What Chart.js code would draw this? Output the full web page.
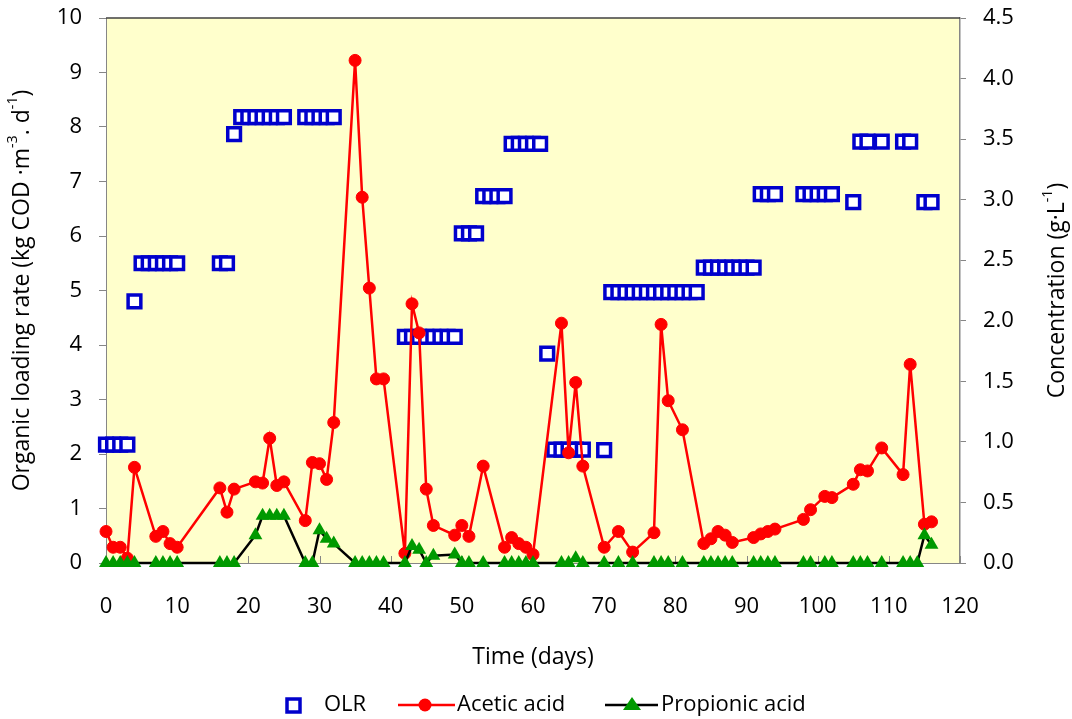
<!DOCTYPE html>
<html>
<head>
<meta charset="utf-8">
<script src="https://cdn.jsdelivr.net/npm/chart.js@4.4.1/dist/chart.umd.min.js"></script>
<style>
html, body { margin: 0; padding: 0; background: #ffffff; }
</style>
</head>
<body>
<canvas id="olrChart" width="1072" height="719"></canvas>
<script>

/* Data */

const olrDays   = [0, 1, 2, 3, 4, 5, 6, 7, 8, 9, 10, 16, 17, 18, 19, 20, 21, 22, 23, 24, 25, 28, 29, 30, 31, 32,
                   42, 43, 44, 45, 46, 47, 48, 49, 50, 51, 52, 53, 54, 55, 56, 57, 58, 59, 60, 61, 62,
                   63, 64, 65, 66, 67, 70, 71, 72, 73, 74, 75, 76, 77, 78, 79, 80, 81, 82, 83,
                   84, 85, 86, 87, 88, 89, 90, 91, 92, 93, 94, 98, 99, 100, 101, 102, 105, 106, 107, 109,
                   112, 113, 115, 116];
const olrValues = [2.17, 2.17, 2.17, 2.17, 4.8, 5.5, 5.5, 5.5, 5.5, 5.5, 5.5, 5.5, 5.5, 7.87, 8.18, 8.18, 8.18, 8.18, 8.18, 8.18, 8.18, 8.18, 8.18, 8.18, 8.18, 8.18,
                   4.15, 4.15, 4.15, 4.15, 4.15, 4.15, 4.15, 4.15, 6.05, 6.05, 6.05, 6.73, 6.73, 6.73, 6.73, 7.69, 7.69, 7.69, 7.69, 7.69, 3.84,
                   2.08, 2.08, 2.08, 2.08, 2.08, 2.07, 4.97, 4.97, 4.97, 4.97, 4.97, 4.97, 4.97, 4.97, 4.97, 4.97, 4.97, 4.97, 4.97,
                   5.42, 5.42, 5.42, 5.42, 5.42, 5.42, 5.42, 5.42, 6.77, 6.77, 6.77, 6.77, 6.77, 6.77, 6.77, 6.77, 6.62, 7.73, 7.73, 7.73,
                   7.73, 7.73, 6.62, 6.62];

const aceticDays   = [0, 1, 2, 3, 4, 7, 8, 9, 10, 16, 17, 18, 21, 22, 23, 24, 25, 28, 29, 30, 31, 32,
                      35, 36, 37, 38, 39, 42, 43, 44, 45, 46, 49, 50, 51, 53, 56, 57, 58, 59, 60,
                      64, 65, 66, 67, 70, 72, 74, 77, 78, 79, 81, 84, 85, 86, 87, 88, 91, 92, 93, 94,
                      98, 99, 101, 102, 105, 106, 107, 109, 112, 113, 115, 116];
const aceticValues = [0.26, 0.13, 0.13, 0.04, 0.79, 0.22, 0.26, 0.16, 0.13, 0.62, 0.42, 0.61, 0.67, 0.66, 1.03, 0.64, 0.67, 0.35, 0.83, 0.82, 0.69, 1.16,
                      4.15, 3.02, 2.27, 1.52, 1.52, 0.08, 2.14, 1.90, 0.61, 0.31, 0.23, 0.31, 0.22, 0.80, 0.13, 0.21, 0.16, 0.13, 0.07,
                      1.98, 0.91, 1.49, 0.80, 0.13, 0.26, 0.09, 0.25, 1.97, 1.34, 1.10, 0.16, 0.20, 0.26, 0.23, 0.17, 0.21, 0.24, 0.26, 0.28,
                      0.36, 0.44, 0.55, 0.54, 0.65, 0.77, 0.76, 0.95, 0.73, 1.64, 0.32, 0.34];

const propionicDays   = [0, 1, 2, 3, 4, 7, 8, 9, 10, 16, 17, 18, 21, 22, 23, 24, 25, 28, 29, 30, 31, 32,
                         35, 36, 37, 38, 39, 42, 43, 44, 45, 46, 49, 50, 51, 53, 56, 57, 58, 59, 60,
                         64, 65, 66, 67, 70, 72, 74, 77, 78, 79, 81, 84, 85, 86, 87, 88, 91, 92, 93, 94,
                         98, 99, 101, 102, 105, 106, 107, 109, 112, 113, 114, 115, 116];
const propionicValues = [0, 0, 0, 0, 0, 0, 0, 0, 0, 0, 0, 0, 0.23, 0.39, 0.39, 0.39, 0.39, 0, 0, 0.27, 0.20, 0.16,
                         0, 0, 0, 0, 0, 0, 0.14, 0.11, 0, 0.06, 0.07, 0, 0, 0, 0, 0, 0, 0, 0,
                         0, 0, 0.04, 0, 0, 0, 0, 0, 0, 0, 0, 0, 0, 0, 0, 0, 0, 0, 0, 0,
                         0, 0, 0, 0, 0, 0, 0, 0, 0, 0, 0, 0.23, 0.15];

const xMin = 0, xMax = 120, xStep = 10;
const leftMin = 0, leftMax = 10, leftStep = 1;
const rightMin = 0, rightMax = 4.5, rightStep = 0.5;

const leftTitle  = [["Organic loading rate (kg COD \u00b7m", false], ["-3", true], [". d", false], ["-1", true], [")", false]];
const rightTitle = [["Concentration (g\u00b7L", false], ["-1", true], [")", false]];

const legendNames = ["OLR", "Acetic acid", "Propionic acid"];

const FONT = "'Open Sans', 'Noto Sans', sans-serif";
const FS = 22;
const TITLE_FS = 23;

function pts(xs, ys){
  return xs.map((x, i) => ({x: x, y: ys[i]}));
}


/* Helpers */

function richWidth(ctx, parts, size){
  let w = 0;
  parts.forEach(p => {
    ctx.font = (p[1] ? size * 0.62 : size) + "px " + FONT;
    w += ctx.measureText(p[0]).width;
  });
  return w;
}

function drawRich(ctx, parts, cx, cy, size){
  ctx.save();
  ctx.translate(cx, cy);
  ctx.rotate(-Math.PI / 2);
  ctx.fillStyle = "#000";
  ctx.textBaseline = "middle";
  ctx.textAlign = "left";
  let x = -richWidth(ctx, parts, size) / 2;
  parts.forEach(p => {
    ctx.font = (p[1] ? size * 0.62 : size) + "px " + FONT;
    ctx.fillText(p[0], x, p[1] ? -size * 0.38 : 0);
    x += ctx.measureText(p[0]).width;
  });
  ctx.restore();
}

// fixed box sizes so the plot area lands where the figure has it
function fixWidth(w){
  return s => { s.width = w; s.paddingTop = 0; s.paddingBottom = 0; };
}


/* Plot area background, frame, inner x ticks */

const plotFrame = {
  id: "plotFrame",
  beforeDraw(chart){
    const {ctx, chartArea: a} = chart;
    ctx.save();
    ctx.fillStyle = "#FFFFCC";
    ctx.fillRect(a.left, a.top, a.right - a.left, a.bottom - a.top);
    ctx.restore();
  },
  beforeDatasetsDraw(chart){
    const {ctx, chartArea: a} = chart;
    const xs = chart.scales.x;
    ctx.save();
    ctx.strokeStyle = "#404040";
    ctx.lineWidth = 1.5;
    ctx.beginPath();
    ctx.moveTo(a.left, a.top);
    ctx.lineTo(a.right, a.top);
    ctx.stroke();
    ctx.strokeStyle = "#868686";
    ctx.lineWidth = 1;
    xs.ticks.forEach(t => {
      const px = Math.round(xs.getPixelForValue(t.value)) + 0.5;
      ctx.beginPath();
      ctx.moveTo(px, a.bottom);
      ctx.lineTo(px, a.bottom - 7);
      ctx.stroke();
    });
    ctx.restore();
  },
  afterDraw(chart){
    const {ctx, chartArea: a} = chart;
    const midY = (a.top + a.bottom) / 2;
    drawRich(ctx, leftTitle, 22, midY, TITLE_FS);
    drawRich(ctx, rightTitle, 1057, midY, TITLE_FS);
  }
};


/* Legend row under the axis title */

const legendRow = {
  id: "legendRow",
  afterDraw(chart){
    const ctx = chart.ctx;
    const ds = chart.data.datasets;
    const y = 705;
    ctx.save();
    ctx.font = FS + "px " + FONT;
    ctx.textBaseline = "middle";

    // OLR
    ctx.fillStyle = "#fff";
    ctx.fillRect(287, y - 6, 13, 13);
    ctx.strokeStyle = ds[0].borderColor;
    ctx.lineWidth = 3.5;
    ctx.strokeRect(287, y - 6, 13, 13);
    ctx.fillStyle = "#000";
    ctx.fillText(legendNames[0], 324, y);

    // Acetic acid
    ctx.strokeStyle = ds[1].borderColor;
    ctx.lineWidth = 2.5;
    ctx.beginPath();
    ctx.moveTo(398, y);
    ctx.lineTo(455, y);
    ctx.stroke();
    ctx.fillStyle = ds[1].pointBackgroundColor;
    ctx.beginPath();
    ctx.arc(425, y, 6.5, 0, Math.PI * 2);
    ctx.fill();
    ctx.fillStyle = "#000";
    ctx.fillText(legendNames[1], 457, y);

    // Propionic acid
    ctx.strokeStyle = ds[2].borderColor;
    ctx.lineWidth = 2.5;
    ctx.beginPath();
    ctx.moveTo(605, y);
    ctx.lineTo(658, y);
    ctx.stroke();
    ctx.fillStyle = ds[2].pointBackgroundColor;
    ctx.beginPath();
    ctx.moveTo(632, y - 8);
    ctx.lineTo(641, y + 5);
    ctx.lineTo(623, y + 5);
    ctx.closePath();
    ctx.fill();
    ctx.fillStyle = "#000";
    ctx.fillText(legendNames[2], 661, y);
    ctx.restore();
  }
};


/* Chart */

const ctx = document.getElementById("olrChart").getContext("2d");

const chart = new Chart(ctx, {
  type: "line",
  data: {
    datasets: [{
      label: legendNames[0],
      data: pts(olrDays, olrValues),
      yAxisID: "y",
      showLine: false,
      pointStyle: "rect",
      pointRadius: 9,
      pointBorderWidth: 3.5,
      borderColor: "#0000CC",
      pointBorderColor: "#0000CC",
      pointBackgroundColor: "#FFFFFF",
      order: 2,
      clip: false
    }, {
      label: legendNames[1],
      data: pts(aceticDays, aceticValues),
      yAxisID: "y1",
      borderColor: "#FF0000",
      borderWidth: 2.5,
      pointStyle: "circle",
      pointRadius: 6,
      pointBorderWidth: 1,
      pointBorderColor: "#FF0000",
      pointBackgroundColor: "#FF0000",
      tension: 0,
      order: 1,
      clip: false
    }, {
      label: legendNames[2],
      data: pts(propionicDays, propionicValues),
      yAxisID: "y1",
      borderColor: "#000000",
      borderWidth: 2.5,
      pointStyle: "triangle",
      pointRadius: 8,
      pointBorderWidth: 0,
      pointBorderColor: "#009900",
      pointBackgroundColor: "#009900",
      tension: 0,
      order: 0,
      clip: false
    }]
  },
  options: {
    responsive: false,
    animation: false,
    layout: { padding: { top: 18, bottom: 46, left: 0, right: 0 } },
    plugins: {
      legend: { display: false },
      tooltip: { enabled: false }
    },
    scales: {
      x: {
        type: "linear",
        min: xMin,
        max: xMax,
        grid: { display: false, drawTicks: false },
        border: { color: "#868686", width: 1 },
        ticks: { stepSize: xStep, color: "#000", font: { family: FONT, size: FS }, padding: 31, maxRotation: 0 },
        title: { display: true, text: "Time (days)", color: "#000", font: { family: FONT, size: TITLE_FS }, padding: { top: 0, bottom: 2 } },
        afterFit(s){ s.height = 110; }
      },
      y: {
        position: "left",
        min: leftMin,
        max: leftMax,
        grid: { drawOnChartArea: false, tickLength: 7, color: "#868686" },
        border: { color: "#868686", width: 1 },
        ticks: { stepSize: leftStep, color: "#000", font: { family: FONT, size: FS }, padding: 17 },
        afterFit: fixWidth(106)
      },
      y1: {
        position: "right",
        min: rightMin,
        max: rightMax,
        grid: { drawOnChartArea: false, tickLength: 6, color: "#868686" },
        border: { color: "#868686", width: 1.5 },
        ticks: { stepSize: rightStep, color: "#000", font: { family: FONT, size: FS }, padding: 17,
                 callback: v => v.toFixed(1) },
        afterFit: fixWidth(112)
      }
    }
  },
  plugins: [plotFrame, legendRow]
});

</script>
</body>
</html>
